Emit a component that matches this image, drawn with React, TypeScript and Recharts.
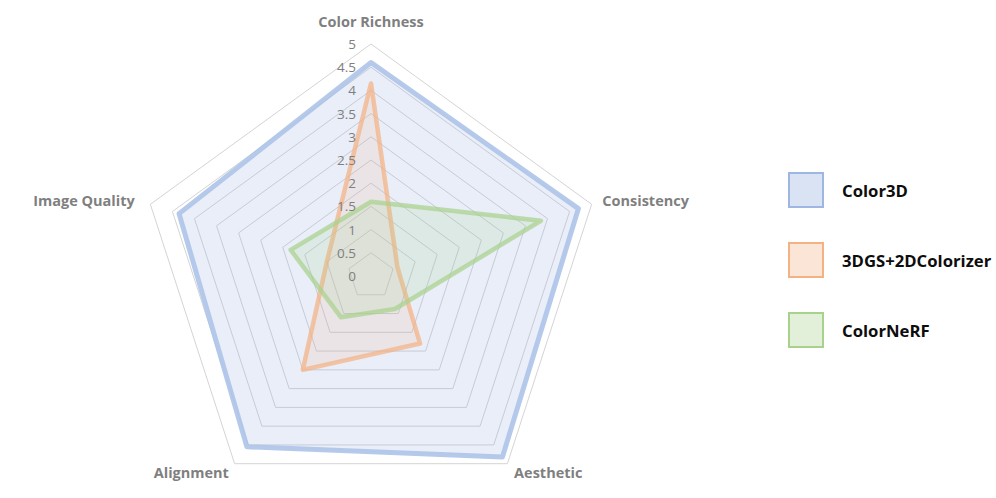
import React from 'react';
import { RadarChart, Radar, PolarGrid, PolarAngleAxis, PolarRadiusAxis, Legend } from 'recharts';

const categories = ['Color Richness', 'Consistency', 'Aesthetic', 'Alignment', 'Image Quality'];
const color3D = [4.6, 4.7, 4.82, 4.55, 4.35];
const dgsColorizer = [4.15, 0.6, 1.8, 2.5, 1.0];
const colorNeRF = [1.6, 3.85, 0.88, 1.1, 1.82];
const seriesNames = ['Color3D', '3DGS+2DColorizer', 'ColorNeRF'];
const radiusTicks = [0, 0.5, 1, 1.5, 2, 2.5, 3, 3.5, 4, 4.5, 5];

const data = categories.map((c, i) => ({
  subject: c,
  color3D: color3D[i],
  dgs: dgsColorizer[i],
  nerf: colorNeRF[i],
}));

const seriesStyles = [
  { key: 'color3D', stroke: '#adc3e8', fill: '#8faadc', fillOpacity: 0.2, swatchFill: '#dae3f3', swatchBorder: '#9db6e2' },
  { key: 'dgs', stroke: '#f4b183', fill: '#f4b183', fillOpacity: 0.15, swatchFill: '#fbe5d6', swatchBorder: '#f4b183' },
  { key: 'nerf', stroke: '#a9d18e', fill: '#a9d18e', fillOpacity: 0.18, swatchFill: '#e2f0d9', swatchBorder: '#a9d18e' },
];

const FONT = '"Open Sans", sans-serif';

const angleOffsets = [
  { anchor: 'middle', dx: 0, dy: -15 },
  { anchor: 'start', dx: 3, dy: -1 },
  { anchor: 'start', dx: 2, dy: 2 },
  { anchor: 'end', dx: -1, dy: 2 },
  { anchor: 'end', dx: -8, dy: -1 },
];

const AngleTick = (props: any) => {
  const { x, y, payload, index } = props;
  const o = angleOffsets[index] || { anchor: 'middle', dx: 0, dy: 0 };
  return (
    <text
      x={x + o.dx}
      y={y + o.dy}
      textAnchor={o.anchor}
      dominantBaseline="central"
      fill="#7f7f7f"
      fontFamily={FONT}
      fontWeight={700}
      fontSize={14.5}
    >
      {payload.value}
    </text>
  );
};

const RadiusTick = (props: any) => {
  const { x, y, payload } = props;
  return (
    <text
      x={x - 15}
      y={y}
      textAnchor="end"
      dominantBaseline="central"
      fill="#7f7f7f"
      fontFamily={FONT}
      fontSize={13.5}
    >
      {String(payload.value)}
    </text>
  );
};

const LegendContent = () => (
  <div style={{ display: 'flex', flexDirection: 'column', gap: 34 }}>
    {seriesNames.map((n, i) => (
      <div key={n} style={{ display: 'flex', alignItems: 'center', height: 36 }}>
        <div
          style={{
            width: 36,
            height: 36,
            boxSizing: 'border-box',
            background: seriesStyles[i].swatchFill,
            border: `2px solid ${seriesStyles[i].swatchBorder}`,
          }}
        />
        <span
          style={{
            marginLeft: 18,
            fontFamily: FONT,
            fontWeight: 700,
            fontSize: 16.7,
            color: '#0d0d0d',
            whiteSpace: 'nowrap',
          }}
        >
          {n}
        </span>
      </div>
    ))}
  </div>
);

export default function App() {
  return (
    <div style={{ position: 'absolute', left: 0, top: 0, width: 996, height: 498, background: '#fff' }}>
      <RadarChart
        width={996}
        height={498}
        data={data}
        cx={371}
        cy={276}
        outerRadius={232}
        startAngle={90}
        endAngle={-270}
        margin={{ top: 0, right: 0, bottom: 0, left: 0 }}
      >
        <PolarGrid gridType="polygon" radialLines={false} stroke="#d4d4d4" strokeWidth={1} />
        <PolarAngleAxis dataKey="subject" tick={AngleTick} tickLine={false} axisLine={false} />
        <Radar
          name={seriesNames[0]}
          dataKey="color3D"
          stroke={seriesStyles[0].stroke}
          strokeOpacity={0.9}
          strokeWidth={5}
          strokeLinejoin="round"
          fill={seriesStyles[0].fill}
          fillOpacity={seriesStyles[0].fillOpacity}
          isAnimationActive={false}
        />
        <Radar
          name={seriesNames[1]}
          dataKey="dgs"
          stroke={seriesStyles[1].stroke}
          strokeOpacity={0.72}
          strokeWidth={4.5}
          strokeLinejoin="round"
          fill={seriesStyles[1].fill}
          fillOpacity={seriesStyles[1].fillOpacity}
          isAnimationActive={false}
        />
        <Radar
          name={seriesNames[2]}
          dataKey="nerf"
          stroke={seriesStyles[2].stroke}
          strokeOpacity={0.72}
          strokeWidth={4.5}
          strokeLinejoin="round"
          fill={seriesStyles[2].fill}
          fillOpacity={seriesStyles[2].fillOpacity}
          isAnimationActive={false}
        />
        <PolarRadiusAxis
          angle={90}
          domain={[0, 5]}
          ticks={radiusTicks as any}
          tickCount={11}
          axisLine={false}
          tickLine={false}
          tick={RadiusTick}
        />
        <Legend
          layout="vertical"
          content={LegendContent}
          wrapperStyle={{ left: 788, top: 172, width: 208 }}
        />
      </RadarChart>
    </div>
  );
}
